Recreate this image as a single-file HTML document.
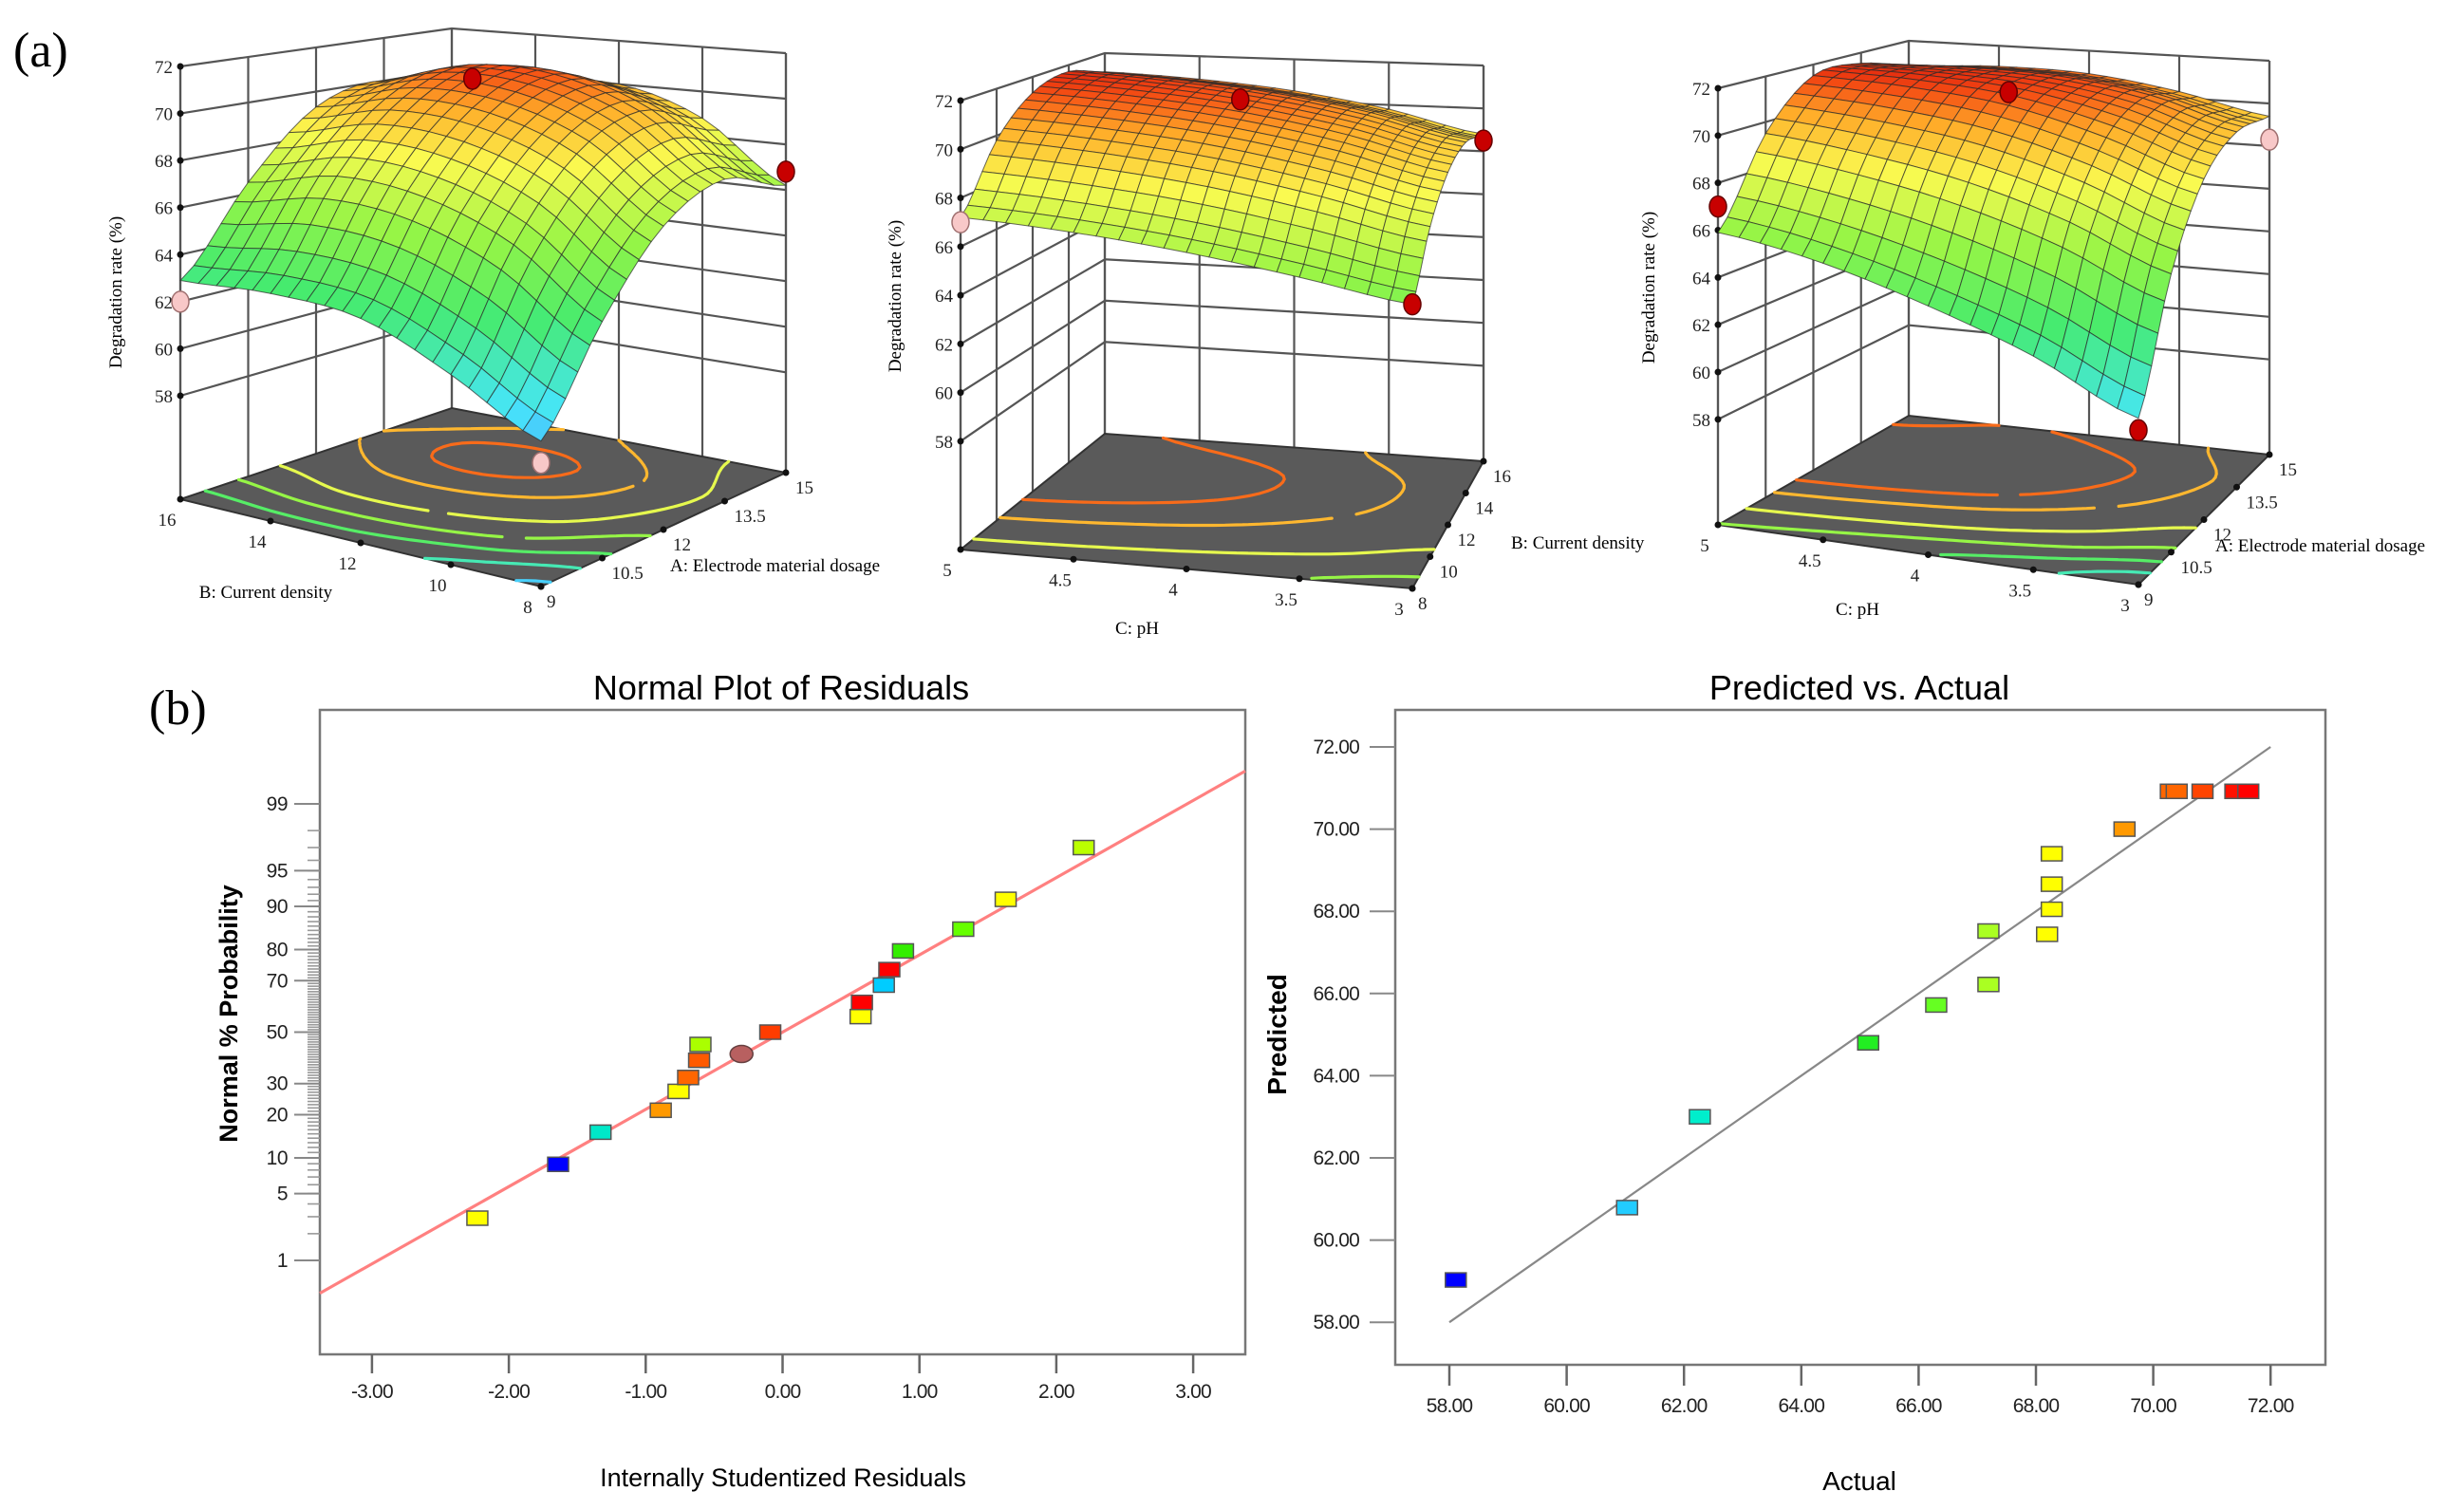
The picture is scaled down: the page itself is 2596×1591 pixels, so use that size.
<!DOCTYPE html>
<html><head><meta charset="utf-8"><title>RSM figure</title>
<style>
html,body{margin:0;padding:0;background:#fff;}
svg{display:block;}
.sf{font-family:"Liberation Serif",serif;}
.ss{font-family:"Liberation Sans",sans-serif;}
</style></head>
<body>
<svg id="fig" xmlns="http://www.w3.org/2000/svg" width="2596" height="1591" viewBox="0 0 2596 1591">
<rect x="0" y="0" width="2596" height="1591" fill="#fff"/>
<text class="sf" x="14" y="70" font-size="52">(a)</text>
<text class="sf" x="157" y="763" font-size="52">(b)</text>
<g id="p1"></g>
<g id="p2"></g>
<g id="p3"></g>
<g id="normal"></g>
<g id="pva"></g>
<text class="sf" font-size="19" text-anchor="middle" transform="translate(128,308) rotate(-90)">Degradation rate (%)</text>
<text class="sf" font-size="19" text-anchor="middle" x="280" y="630">B: Current density</text>
<text class="sf" font-size="19" text-anchor="start" x="706" y="602">A: Electrode material dosage</text>
<text class="sf" font-size="19" text-anchor="middle" transform="translate(949,312) rotate(-90)">Degradation rate (%)</text>
<text class="sf" font-size="19" text-anchor="middle" x="1198" y="668">C: pH</text>
<text class="sf" font-size="19" text-anchor="start" x="1592" y="578">B: Current density</text>
<text class="sf" font-size="19" text-anchor="middle" transform="translate(1743,303) rotate(-90)">Degradation rate (%)</text>
<text class="sf" font-size="19" text-anchor="middle" x="1957" y="648">C: pH</text>
<text class="sf" font-size="19" text-anchor="start" x="2334" y="581">A: Electrode material dosage</text>
<text class="ss" x="823" y="737" font-size="36" text-anchor="middle">Normal Plot of Residuals</text>
<text class="ss" x="1959" y="737" font-size="36" text-anchor="middle">Predicted vs. Actual</text>
<text class="ss" x="825" y="1566" font-size="27" text-anchor="middle">Internally Studentized Residuals</text>
<text class="ss" font-size="27" font-weight="bold" text-anchor="middle" transform="translate(250,1068) rotate(-90)">Normal % Probability</text>
<text class="ss" x="1959" y="1570" font-size="28" text-anchor="middle">Actual</text>
<text class="ss" font-size="28" font-weight="bold" text-anchor="middle" transform="translate(1355,1090) rotate(-90)">Predicted</text>
</svg>
<script>
const zTicks = [58, 60, 62, 64, 66, 68, 70, 72];
const p1Grid = [
  [59.6, 63.5, 66.5, 67.5, 66.2],
  [61.5, 66.0, 69.0, 70.0, 68.8],
  [63.0, 67.3, 70.2, 71.2, 70.0],
  [63.2, 67.5, 70.3, 71.2, 69.8],
  [62.9, 66.5, 69.3, 70.0, 68.5]
];
const p1UTicks = ["9", "10.5", "12", "13.5", "15"];
const p1VTicks = ["8", "10", "12", "14", "16"];
const p1Points = [[0.5, 0.55, 71.6, "r"], [1, 0, 66.8, "r"], [0, 1, 62.0, "p"], [0, 0, 58.7, "p"]];
const p2Grid = [
  [65.3, 67.6, 69.0, 69.4, 68.8],
  [66.0, 68.5, 70.0, 70.4, 69.8],
  [66.6, 69.2, 70.7, 71.1, 70.5],
  [67.0, 69.6, 71.1, 71.5, 70.9],
  [67.2, 69.8, 71.3, 71.7, 71.1]
];
const p2UTicks = ["8", "10", "12", "14", "16"];
const p2VTicks = ["3", "3.5", "4", "4.5", "5"];
const p2Points = [[0.5, 0.5, 71.6, "r"], [1, 0, 68.5, "r"], [0, 0, 65.3, "r"], [0, 1, 67.0, "p"]];
const p3Grid = [
  [60.5, 65.5, 68.6, 69.7, 69.4],
  [62.5, 67.2, 70.0, 70.9, 70.3],
  [64.0, 68.4, 71.0, 71.5, 70.9],
  [65.2, 69.1, 71.4, 71.6, 71.0],
  [65.9, 69.5, 71.5, 71.5, 70.8]
];
const p3UTicks = ["9", "10.5", "12", "13.5", "15"];
const p3VTicks = ["3", "3.5", "4", "4.5", "5"];
const p3Points = [[0.5, 0.5, 71.6, "r"], [0, 1, 67.0, "r"], [0, 0, 60.0, "r"], [1, 0, 68.3, "p"]];
const contourLevels = [60, 62, 64, 66, 68, 70, 71];

const resid = [-2.23, -1.64, -1.33, -0.89, -0.76, -0.69, -0.61, -0.60, -0.30, -0.09, 0.57, 0.58, 0.74, 0.78, 0.88, 1.32, 1.63, 2.20];
const probPct = [2.9, 8.9, 15.4, 21.3, 27.3, 32.2, 38.7, 45.0, 41.2, 50.0, 56.3, 61.9, 68.4, 73.8, 79.6, 85.3, 91.2, 97.0];
const residColors = ["#ffff00","#0000ff","#00e8c8","#ff9900","#ffff00","#ff6600","#ff5a00","#aaff00","#b86060","#ff3c00","#ffff00","#ff0000","#00ccff","#ff0000","#33ee00","#66ff00","#ffff00","#bbff00"];
const residShape = ["s","s","s","s","s","s","s","s","c","s","s","s","s","s","s","s","s","s"];
const residXTicks = [-3, -2, -1, 0, 1, 2, 3];
const residXLabels = ["-3.00","-2.00","-1.00","0.00","1.00","2.00","3.00"];
const probTicks = [1, 5, 10, 20, 30, 50, 70, 80, 90, 95, 99];
const residLineSlope = 0.787;

const actual = [58.11, 61.03, 62.27, 65.14, 66.30, 67.19, 67.19, 68.19, 68.27, 68.27, 68.27, 69.51, 70.30, 70.40, 70.84, 71.40, 71.62];
const predicted = [59.03, 60.79, 63.00, 64.80, 65.72, 66.22, 67.52, 67.44, 68.05, 68.66, 69.40, 70.00, 70.92, 70.92, 70.92, 70.92, 70.92];
const pvaColors = ["#0000ff","#22ccff","#00eecc","#22ee22","#66ff22","#aaff22","#aaff22","#ffff00","#ffff00","#ffff00","#ffff00","#ff9900","#ff6600","#ff6600","#ff4400","#ff1100","#ff0000"];
const pvaTicks = [58, 60, 62, 64, 66, 68, 70, 72];
const pvaLabels = ["58.00","60.00","62.00","64.00","66.00","68.00","70.00","72.00"];

const NS = "http://www.w3.org/2000/svg";
function mk(parent, tag, attrs) {
  const e = document.createElementNS(NS, tag);
  for (const k in attrs) e.setAttribute(k, attrs[k]);
  parent.appendChild(e);
  return e;
}
function jet(z) {
  const stops = [[58, [80, 120, 255]], [60.5, [70, 230, 250]], [63.5, [70, 235, 110]], [66, [150, 245, 70]], [68.5, [250, 250, 80]], [70.3, [255, 170, 40]], [71.3, [245, 80, 20]], [72, [220, 20, 10]]];
  if (z <= stops[0][0]) return "rgb(" + stops[0][1].join(",") + ")";
  for (let i = 1; i < stops.length; i++) {
    if (z <= stops[i][0]) {
      const t = (z - stops[i - 1][0]) / (stops[i][0] - stops[i - 1][0]);
      const a = stops[i - 1][1], b = stops[i][1];
      return "rgb(" + a.map((v, k) => Math.round(v + (b[k] - v) * t)).join(",") + ")";
    }
  }
  return "rgb(220,20,10)";
}
function cr(p0, p1, p2, p3, t) {
  return 0.5 * (2 * p1 + (-p0 + p2) * t + (2 * p0 - 5 * p1 + 4 * p2 - p3) * t * t + (-p0 + 3 * p1 - 3 * p2 + p3) * t * t * t);
}
function surfZ(grid, u, v) {
  const n = grid.length - 1;
  const gi = (i, j) => grid[Math.max(0, Math.min(n, i))][Math.max(0, Math.min(n, j))];
  const fv = v * n, fu = u * n;
  let i = Math.min(n - 1, Math.floor(fv)), j = Math.min(n - 1, Math.floor(fu));
  const tv = fv - i, tu = fu - j;
  const rows = [];
  for (let a = -1; a <= 2; a++) rows.push(cr(gi(i + a, j - 1), gi(i + a, j), gi(i + a, j + 1), gi(i + a, j + 2), tu));
  return cr(rows[0], rows[1], rows[2], rows[3], tv);
}

function draw3D(id, cfg, grid, uTicks, vTicks, pts) {
  const g = document.getElementById(id);
  const {F, R, L, K, H, zf} = cfg;
  const zmax = 72;
  function proj(u, v, z) {
    const w = [(1 - u) * (1 - v), u * (1 - v), (1 - u) * v, u * v];
    const x = F[0] * w[0] + R[0] * w[1] + L[0] * w[2] + K[0] * w[3];
    const y = F[1] * w[0] + R[1] * w[1] + L[1] * w[2] + K[1] * w[3];
    const h = H[0] * w[0] + H[1] * w[1] + H[2] * w[2] + H[3] * w[3];
    return [x, y - (z - zf) / (zmax - zf) * h];
  }
  const P = (a) => a[0].toFixed(1) + "," + a[1].toFixed(1);
  const wallStroke = {stroke: "#555", "stroke-width": 2.2, fill: "none"};
  const walls = mk(g, "g", {});
  
  
  for (const z of zTicks) {
    mk(walls, "polyline", Object.assign({points: [proj(0, 1, z), proj(1, 1, z), proj(1, 0, z)].map(P).join(" ")}, wallStroke));
  }
  for (let k = 0; k <= 4; k++) {
    const t = k / 4;
    mk(walls, "line", Object.assign({x1: proj(t, 1, zf)[0], y1: proj(t, 1, zf)[1], x2: proj(t, 1, zmax)[0], y2: proj(t, 1, zmax)[1]}, wallStroke));
    mk(walls, "line", Object.assign({x1: proj(1, t, zf)[0], y1: proj(1, t, zf)[1], x2: proj(1, t, zmax)[0], y2: proj(1, t, zmax)[1]}, wallStroke));
  }
  const floor = mk(g, "polygon", {points: [proj(0, 0, zf), proj(1, 0, zf), proj(1, 1, zf), proj(0, 1, zf)].map(P).join(" "), fill: "#5a5a5a", stroke: "#333", "stroke-width": 2});
  
  
  const N = 40;
  const Z = [];
  for (let i = 0; i <= N; i++) { Z.push([]); for (let j = 0; j <= N; j++) Z[i].push(surfZ(grid, j / N, i / N)); }
  const cg = mk(g, "g", {fill: "none", "stroke-width": 3.2, "stroke-linecap": "round"});
  
  
  for (const lv of contourLevels) {
    let d = "";
    for (let i = 0; i < N; i++) for (let j = 0; j < N; j++) {
      const c = [[i, j], [i, j + 1], [i + 1, j + 1], [i + 1, j]];
      const cross = [];
      for (let e = 0; e < 4; e++) {
        const a = c[e], b = c[(e + 1) % 4];
        const za = Z[a[0]][a[1]], zb = Z[b[0]][b[1]];
        if ((za - lv) * (zb - lv) < 0) {
          const t = (lv - za) / (zb - za);
          const vi = a[0] + (b[0] - a[0]) * t, uj = a[1] + (b[1] - a[1]) * t;
          cross.push(proj(uj / N, vi / N, zf));
        }
      }
      if (cross.length >= 2) d += "M" + P(cross[0]) + "L" + P(cross[1]);
      if (cross.length === 4) d += "M" + P(cross[2]) + "L" + P(cross[3]);
    }
    if (d) mk(cg, "path", {d: d, stroke: jet(lv)});
  }
  mk(g, "line", Object.assign({x1: proj(0, 1, zf)[0], y1: proj(0, 1, zf)[1], x2: proj(0, 1, zmax)[0], y2: proj(0, 1, zmax)[1]}, wallStroke));
  mk(g, "line", Object.assign({x1: proj(1, 0, zf)[0], y1: proj(1, 0, zf)[1], x2: proj(1, 0, zmax)[0], y2: proj(1, 0, zmax)[1]}, wallStroke));
  for (const z of zTicks) {
    const p = proj(0, 1, z);
    const dot = mk(g, "circle", {cx: p[0], cy: p[1], r: 3.5, fill: "#111"});
    
    
    const t = mk(g, "text", {x: p[0] - 8, y: p[1] + 7, "font-size": 19, "text-anchor": "end", class: "sf", fill: "#222"});
    t.textContent = z;
    
    
  }
  for (let k = 0; k < 5; k++) {
    const t = k / 4;
    const pv = proj(0, t, zf);
    mk(g, "circle", {cx: pv[0], cy: pv[1], r: 3.5, fill: "#111"});
    const tv = mk(g, "text", {x: pv[0] - 14, y: pv[1] + 28, "font-size": 19, "text-anchor": "middle", class: "sf", fill: "#222"});
    tv.textContent = vTicks[k];
    
    
    const pu = proj(t, 0, zf);
    mk(g, "circle", {cx: pu[0], cy: pu[1], r: 3.5, fill: "#111"});
    const tu = mk(g, "text", {x: pu[0] + (k === 0 ? 6 : 10), y: pu[1] + 22, "font-size": 19, "text-anchor": "start", class: "sf", fill: "#222"});
    tu.textContent = uTicks[k];
    
    
  }
  const M = 20;
  const cells = [];
  for (let i = 0; i < M; i++) for (let j = 0; j < M; j++) cells.push([i, j]);
  cells.sort((a, b) => (b[0] + b[1]) - (a[0] + a[1]));
  const sg = mk(g, "g", {stroke: "#2a2a2a", "stroke-width": 1.0, "stroke-opacity": 0.7, "stroke-linejoin": "round"});
  
  
  for (const [i, j] of cells) {
    const corners = [[j, i], [j + 1, i], [j + 1, i + 1], [j, i + 1]].map(([a, b]) => [a / M, b / M]);
    const zs = corners.map(([u, v]) => surfZ(grid, u, v));
    const pts2 = corners.map(([u, v], k) => proj(u, v, zs[k]));
    const za = (zs[0] + zs[1] + zs[2] + zs[3]) / 4;
    mk(sg, "polygon", {points: pts2.map(P).join(" "), fill: jet(za)});
  }
  for (const [u, v, z, c] of pts) {
    const p = proj(u, v, z);
    const dp = mk(g, "ellipse", {cx: p[0], cy: p[1], rx: 9, ry: 11, fill: c === "r" ? "#c80000" : "#f8c8c8", stroke: c === "r" ? "#600" : "#a07070", "stroke-width": 1.5});
    
    
  }
}

draw3D("p1", {F: [570, 618], R: [828, 498], L: [190, 526], K: [476, 430], H: [470, 442, 456, 400], zf: 53.6}, p1Grid, p1UTicks, p1VTicks, p1Points);
draw3D("p2", {F: [1488, 620], R: [1563, 486], L: [1012, 579], K: [1164, 457], H: [470, 417, 473, 401], zf: 53.55}, p2Grid, p2UTicks, p2VTicks, p2Points);
draw3D("p3", {F: [2253, 616], R: [2391, 479], L: [1810, 553], K: [2011, 438], H: [465, 415, 460, 395], zf: 53.54}, p3Grid, p3UTicks, p3VTicks, p3Points);

(function () {
  const g = document.getElementById("normal");
  const box = {x0: 337, x1: 1312, y0: 748, y1: 1427};
  const xs = (r) => 824.5 + r * 144.2;
  function invNorm(p) {
    const a = [-39.6968302866538, 220.946098424521, -275.928510446969, 138.357751867269, -30.6647980661472, 2.50662827745924];
    const b = [-54.4760987982241, 161.585836858041, -155.698979859887, 66.8013118877197, -13.2806815528857];
    const c = [-0.00778489400243029, -0.322396458041136, -2.40075827716184, -2.54973253934373, 4.37466414146497, 2.93816398269878];
    const d = [0.00778469570904146, 0.32246712907004, 2.445134137143, 3.75440866190742];
    const pl = 0.02425;
    let q, r;
    if (p < pl) { q = Math.sqrt(-2 * Math.log(p)); return (((((c[0] * q + c[1]) * q + c[2]) * q + c[3]) * q + c[4]) * q + c[5]) / ((((d[0] * q + d[1]) * q + d[2]) * q + d[3]) * q + 1); }
    if (p > 1 - pl) { q = Math.sqrt(-2 * Math.log(1 - p)); return -(((((c[0] * q + c[1]) * q + c[2]) * q + c[3]) * q + c[4]) * q + c[5]) / ((((d[0] * q + d[1]) * q + d[2]) * q + d[3]) * q + 1); }
    q = p - 0.5; r = q * q;
    return (((((a[0] * r + a[1]) * r + a[2]) * r + a[3]) * r + a[4]) * r + a[5]) * q / (((((b[0] * r + b[1]) * r + b[2]) * r + b[3]) * r + b[4]) * r + 1);
  }
  const yz = (z) => 1087.5 - z * 103.4;
  const ys = (pct) => yz(invNorm(pct / 100));
  const frame = mk(g, "rect", {x: box.x0, y: box.y0, width: box.x1 - box.x0, height: box.y1 - box.y0, fill: "none", stroke: "#777", "stroke-width": 2.5});
  
  
  for (let p = 1; p <= 99; p++) {
    const y = ys(p);
    mk(g, "line", {x1: box.x0 - 13, y1: y, x2: box.x0, y2: y, stroke: "#999", "stroke-width": 1.6});
  }
  probTicks.forEach((p) => {
    const y = ys(p);
    mk(g, "line", {x1: box.x0 - 27, y1: y, x2: box.x0, y2: y, stroke: "#888", "stroke-width": 2});
    const t = mk(g, "text", {x: box.x0 - 34, y: y + 7, "font-size": 21, "text-anchor": "end", class: "ss", fill: "#222", "letter-spacing": "-0.5"});
    t.textContent = p;
    
    
  });
  residXTicks.forEach((v, i) => {
    const x = xs(v);
    mk(g, "line", {x1: x, y1: box.y1, x2: x, y2: box.y1 + 20, stroke: "#666", "stroke-width": 2.5});
    const t = mk(g, "text", {x: x, y: box.y1 + 46, "font-size": 21, "text-anchor": "middle", class: "ss", fill: "#222", "letter-spacing": "-0.8"});
    t.textContent = residXLabels[i];
    
    
  });
  const rx0 = (box.x0 - 824.5) / 144.2, rx1 = (box.x1 - 824.5) / 144.2;
  const ln = mk(g, "line", {x1: xs(rx0), y1: yz(residLineSlope * rx0), x2: xs(rx1), y2: yz(residLineSlope * rx1), stroke: "#ff8080", "stroke-width": 3.2});
  
  
  resid.forEach((r, i) => {
    const x = xs(r), y = ys(probPct[i]);
    let m;
    if (residShape[i] === "c") m = mk(g, "ellipse", {cx: x, cy: y, rx: 12, ry: 9, fill: residColors[i], stroke: "#664040", "stroke-width": 1.5});
    else m = mk(g, "rect", {x: x - 11, y: y - 7.5, width: 22, height: 15, fill: residColors[i], stroke: "#555", "stroke-width": 1.5});
    
    
  });
})();

(function () {
  const g = document.getElementById("pva");
  const box = {x0: 1470, x1: 2450, y0: 748, y1: 1438};
  const xs = (v) => 1527 + (v - 58) * 61.8;
  const ys = (v) => 787 + (72 - v) * 43.3;
  const frame = mk(g, "rect", {x: box.x0, y: box.y0, width: box.x1 - box.x0, height: box.y1 - box.y0, fill: "none", stroke: "#777", "stroke-width": 2.5});
  
  
  pvaTicks.forEach((v, i) => {
    const y = ys(v);
    mk(g, "line", {x1: box.x0 - 27, y1: y, x2: box.x0, y2: y, stroke: "#888", "stroke-width": 2});
    const t = mk(g, "text", {x: box.x0 - 38, y: y + 7, "font-size": 21, "text-anchor": "end", class: "ss", fill: "#222", "letter-spacing": "-0.8"});
    t.textContent = pvaLabels[i];
    
    
    const x = xs(v);
    mk(g, "line", {x1: x, y1: box.y1, x2: x, y2: box.y1 + 22, stroke: "#666", "stroke-width": 2.5});
    const tx = mk(g, "text", {x: x, y: box.y1 + 50, "font-size": 21, "text-anchor": "middle", class: "ss", fill: "#222", "letter-spacing": "-0.8"});
    tx.textContent = pvaLabels[i];
    
    
  });
  const ln = mk(g, "line", {x1: xs(58), y1: ys(58), x2: xs(72), y2: ys(72), stroke: "#888", "stroke-width": 2.2});
  
  
  actual.forEach((a, i) => {
    const m = mk(g, "rect", {x: xs(a) - 11, y: ys(predicted[i]) - 7.5, width: 22, height: 15, fill: pvaColors[i], stroke: "#555", "stroke-width": 1.5});
    
    
  });
})();
</script>
</body></html>
